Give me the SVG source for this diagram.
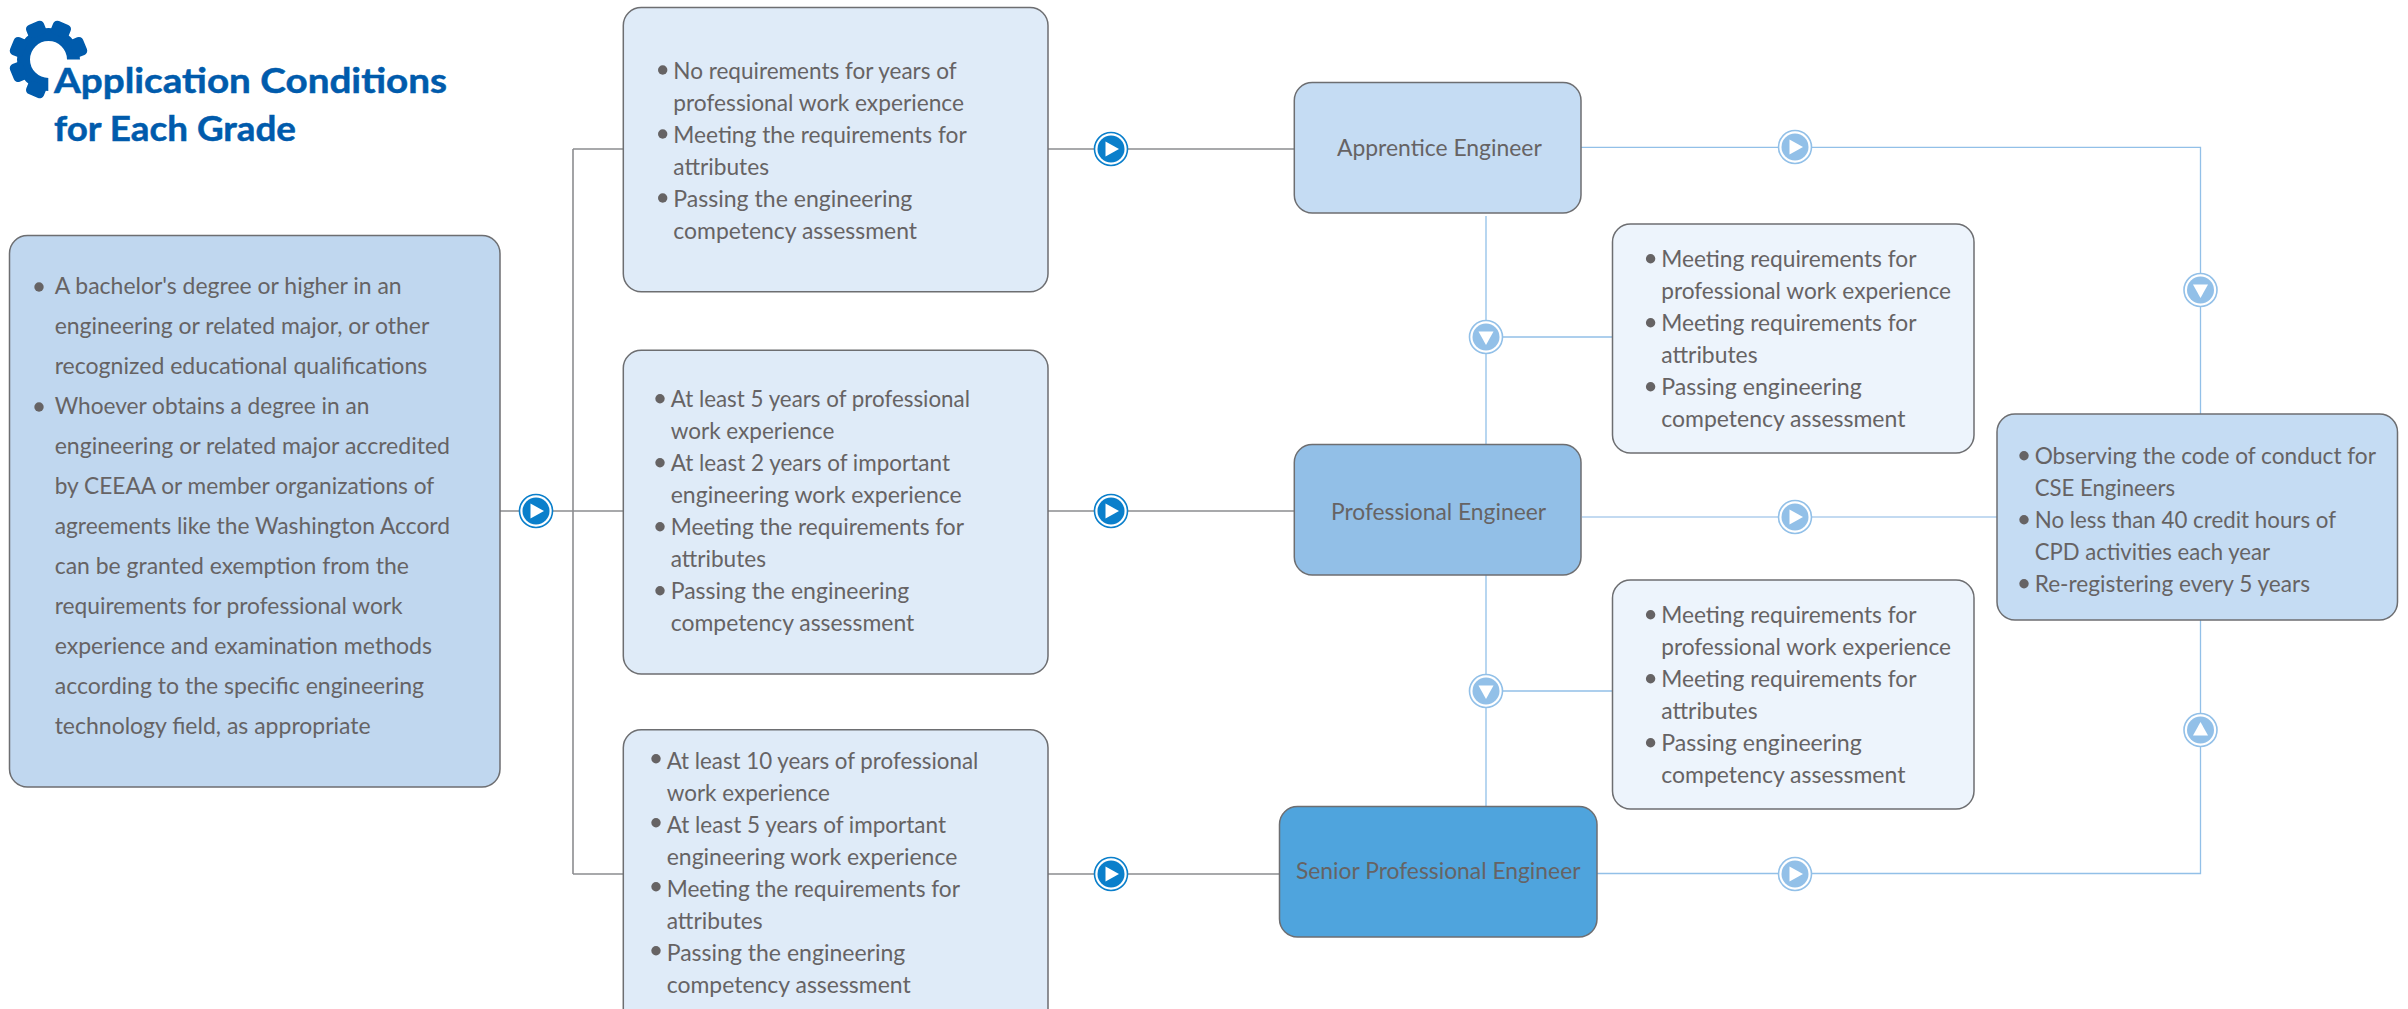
<svg xmlns="http://www.w3.org/2000/svg" xmlns:xlink="http://www.w3.org/1999/xlink" width="2408" height="1009" viewBox="0 0 2408 1009">
<style>
text{font-family:"Lato","Noto Sans","Liberation Sans",sans-serif;font-size:23.5px;fill:#666364}
.title{font-weight:700;font-size:35px;fill:#005bac;stroke:#005bac;stroke-width:.5}
.box{stroke:#6d6e71;stroke-width:1.5}
.bul{fill:#666364}
.dark{fill:none;stroke:#8c8d90;stroke-width:1.6}
.light{fill:none;stroke:#92c0e8;stroke-width:1.3}
.pale{fill:none;stroke:#c3daf1;stroke-width:2}
</style>
<defs>
<clipPath id="gearclip"><path d="M0 0H100V59.5H48.3V100H0Z"/></clipPath>
<rect id="tooth" x="-9.5" y="-39.5" width="19" height="14" rx="4.5" fill="#005bac"/>
<g id="btnDark"><circle r="16.5" fill="#fff" stroke="#0a7fcb" stroke-width="1.6"/><circle r="13.5" fill="#0a7fcb"/><path d="M-5.5-7.5L8 0L-5.5 7.5Z" fill="#fff"/></g>
<g id="btnLight"><circle r="16.5" fill="#fff" stroke="#92c0e8" stroke-width="1.6"/><circle r="13.5" fill="#92c0e8"/><path d="M-5.5-7.5L8 0L-5.5 7.5Z" fill="#fff"/></g>
</defs>
<rect width="2408" height="1009" fill="#fff"/>
<g id="connectors">
<path class="dark" d="M500 511H1294M573 149V874M573 149H1294M573 874H1280"/>
<path class="light" d="M1486 216V445M1486 575V806.5M1486 337H1613M1486 691H1613"/>
<path class="light" d="M1581 147.300H2200.500V414M2200.500 620V873.500H1597"/>
<path class="pale" d="M1582 517H1997"/>
<use xlink:href="#btnDark" href="#btnDark" x="536" y="511"/>
<use xlink:href="#btnDark" href="#btnDark" x="1111" y="149"/>
<use xlink:href="#btnDark" href="#btnDark" x="1111" y="511"/>
<use xlink:href="#btnDark" href="#btnDark" x="1111" y="874"/>
<use xlink:href="#btnLight" href="#btnLight" x="1795" y="147"/>
<use xlink:href="#btnLight" href="#btnLight" x="1795" y="517"/>
<use xlink:href="#btnLight" href="#btnLight" x="1795" y="874"/>
<use xlink:href="#btnLight" href="#btnLight" transform="translate(1486 337) rotate(90)"/>
<use xlink:href="#btnLight" href="#btnLight" transform="translate(1486 691) rotate(90)"/>
<use xlink:href="#btnLight" href="#btnLight" transform="translate(2200.500 290) rotate(90)"/>
<use xlink:href="#btnLight" href="#btnLight" transform="translate(2200.500 730) rotate(-90)"/>
</g>
<g id="title">
<g clip-path="url(#gearclip)">
<circle cx="48.500" cy="59.500" r="25" fill="none" stroke="#005bac" stroke-width="13"/>
<use xlink:href="#tooth" href="#tooth" transform="translate(48.500 59.500) rotate(22.500)"/>
<use xlink:href="#tooth" href="#tooth" transform="translate(48.500 59.500) rotate(67.500)"/>
<use xlink:href="#tooth" href="#tooth" transform="translate(48.500 59.500) rotate(112.500)"/>
<use xlink:href="#tooth" href="#tooth" transform="translate(48.500 59.500) rotate(157.500)"/>
<use xlink:href="#tooth" href="#tooth" transform="translate(48.500 59.500) rotate(202.500)"/>
<use xlink:href="#tooth" href="#tooth" transform="translate(48.500 59.500) rotate(247.500)"/>
<use xlink:href="#tooth" href="#tooth" transform="translate(48.500 59.500) rotate(292.500)"/>
<use xlink:href="#tooth" href="#tooth" transform="translate(48.500 59.500) rotate(337.500)"/>
</g>
<text class="title" x="54" y="92.700" textLength="393" lengthAdjust="spacingAndGlyphs">Application Conditions</text>
<text class="title" x="54" y="140.700" textLength="242" lengthAdjust="spacingAndGlyphs">for Each Grade</text>
</g>
<g id="node-requirements">
<rect class="box" x="9.500" y="235.500" width="490.500" height="551.500" rx="18" fill="#c0d7ef"/>
<circle class="bul" cx="39" cy="287" r="4.700"/>
<circle class="bul" cx="39" cy="407" r="4.700"/>
<text x="54.700" y="293.500" textLength="347" lengthAdjust="spacingAndGlyphs">A bachelor's degree or higher in an</text>
<text x="54.700" y="333.500" textLength="374.600" lengthAdjust="spacingAndGlyphs">engineering or related major, or other</text>
<text x="54.700" y="373.500" textLength="372.600" lengthAdjust="spacingAndGlyphs">recognized educational qualifications</text>
<text x="54.700" y="413.500" textLength="314.600" lengthAdjust="spacingAndGlyphs">Whoever obtains a degree in an</text>
<text x="54.700" y="453.500" textLength="395.300" lengthAdjust="spacingAndGlyphs">engineering or related major accredited</text>
<text x="54.700" y="493.500" textLength="379.600" lengthAdjust="spacingAndGlyphs">by CEEAA or member organizations of</text>
<text x="54.700" y="533.500" textLength="395.300" lengthAdjust="spacingAndGlyphs">agreements like the Washington Accord</text>
<text x="54.700" y="573.500" textLength="354.300" lengthAdjust="spacingAndGlyphs">can be granted exemption from the</text>
<text x="54.700" y="613.500" textLength="348" lengthAdjust="spacingAndGlyphs">requirements for professional work</text>
<text x="54.700" y="653.500" textLength="377.300" lengthAdjust="spacingAndGlyphs">experience and examination methods</text>
<text x="54.700" y="693.500" textLength="369.300" lengthAdjust="spacingAndGlyphs">according to the specific engineering</text>
<text x="54.700" y="733.500" textLength="316" lengthAdjust="spacingAndGlyphs">technology field, as appropriate</text>
</g>
<g id="node-apprentice-conditions">
<rect class="box" x="623.300" y="7.500" width="424.700" height="284.200" rx="18" fill="#dfebf8"/>
<circle class="bul" cx="662.700" cy="70" r="4.700"/>
<circle class="bul" cx="662.700" cy="134" r="4.700"/>
<circle class="bul" cx="662.700" cy="198" r="4.700"/>
<text x="673.300" y="78.500" textLength="283.400" lengthAdjust="spacingAndGlyphs">No requirements for years of</text>
<text x="673.300" y="110.500" textLength="290.700" lengthAdjust="spacingAndGlyphs">professional work experience</text>
<text x="673.300" y="142.500" textLength="293.400" lengthAdjust="spacingAndGlyphs">Meeting the requirements for</text>
<text x="673.300" y="174.500" textLength="95.700" lengthAdjust="spacingAndGlyphs">attributes</text>
<text x="673.300" y="206.500" textLength="239" lengthAdjust="spacingAndGlyphs">Passing the engineering</text>
<text x="673.300" y="238.500" textLength="243.700" lengthAdjust="spacingAndGlyphs">competency assessment</text>
</g>
<g id="node-professional-conditions">
<rect class="box" x="623.300" y="350.300" width="424.700" height="323.700" rx="18" fill="#dfebf8"/>
<circle class="bul" cx="660" cy="398.700" r="4.700"/>
<circle class="bul" cx="660" cy="462.700" r="4.700"/>
<circle class="bul" cx="660" cy="526.700" r="4.700"/>
<circle class="bul" cx="660" cy="590.700" r="4.700"/>
<text x="670.700" y="407" textLength="299.300" lengthAdjust="spacingAndGlyphs">At least 5 years of professional</text>
<text x="670.700" y="439" textLength="163.600" lengthAdjust="spacingAndGlyphs">work experience</text>
<text x="670.700" y="471" textLength="279.300" lengthAdjust="spacingAndGlyphs">At least 2 years of important</text>
<text x="670.700" y="503" textLength="291" lengthAdjust="spacingAndGlyphs">engineering work experience</text>
<text x="670.700" y="535" textLength="293.300" lengthAdjust="spacingAndGlyphs">Meeting the requirements for</text>
<text x="670.700" y="567" textLength="95.300" lengthAdjust="spacingAndGlyphs">attributes</text>
<text x="670.700" y="599" textLength="238.600" lengthAdjust="spacingAndGlyphs">Passing the engineering</text>
<text x="670.700" y="631" textLength="243.600" lengthAdjust="spacingAndGlyphs">competency assessment</text>
</g>
<g id="node-senior-conditions">
<rect class="box" x="623.300" y="729.700" width="424.700" height="300" rx="18" fill="#dfebf8"/>
<circle class="bul" cx="656" cy="758.700" r="4.700"/>
<circle class="bul" cx="656" cy="822.700" r="4.700"/>
<circle class="bul" cx="656" cy="886.700" r="4.700"/>
<circle class="bul" cx="656" cy="950.700" r="4.700"/>
<text x="666.700" y="768.500" textLength="311.600" lengthAdjust="spacingAndGlyphs">At least 10 years of professional</text>
<text x="666.700" y="800.500" textLength="163.300" lengthAdjust="spacingAndGlyphs">work experience</text>
<text x="666.700" y="832.500" textLength="279.300" lengthAdjust="spacingAndGlyphs">At least 5 years of important</text>
<text x="666.700" y="864.500" textLength="290.600" lengthAdjust="spacingAndGlyphs">engineering work experience</text>
<text x="666.700" y="896.500" textLength="293.300" lengthAdjust="spacingAndGlyphs">Meeting the requirements for</text>
<text x="666.700" y="928.500" textLength="96" lengthAdjust="spacingAndGlyphs">attributes</text>
<text x="666.700" y="960.500" textLength="238.600" lengthAdjust="spacingAndGlyphs">Passing the engineering</text>
<text x="666.700" y="992.500" textLength="244" lengthAdjust="spacingAndGlyphs">competency assessment</text>
</g>
<g id="node-apprentice">
<rect class="box" x="1294.300" y="82.500" width="286.700" height="130.500" rx="18" fill="#c5dcf3"/>
<text x="1337" y="156" textLength="204.800" lengthAdjust="spacingAndGlyphs">Apprentice Engineer</text>
</g>
<g id="node-professional">
<rect class="box" x="1294.300" y="444.500" width="286.700" height="130.500" rx="18" fill="#92bfe7"/>
<text x="1331" y="520" textLength="215" lengthAdjust="spacingAndGlyphs">Professional Engineer</text>
</g>
<g id="node-senior">
<rect class="box" x="1279.500" y="806.500" width="317.500" height="130.500" rx="18" fill="#4fa4dd"/>
<text x="1296" y="878.500" textLength="284.500" lengthAdjust="spacingAndGlyphs">Senior Professional Engineer</text>
</g>
<g id="node-upgrade-professional">
<rect class="box" x="1612.500" y="224" width="361.500" height="229" rx="18" fill="#edf4fc"/>
<circle class="bul" cx="1650.600" cy="258.700" r="4.700"/>
<circle class="bul" cx="1650.600" cy="322.700" r="4.700"/>
<circle class="bul" cx="1650.600" cy="386.700" r="4.700"/>
<text x="1661.200" y="266.700" textLength="255.300" lengthAdjust="spacingAndGlyphs">Meeting requirements for</text>
<text x="1661.200" y="298.700" textLength="289.800" lengthAdjust="spacingAndGlyphs">professional work experience</text>
<text x="1661.200" y="330.700" textLength="255.300" lengthAdjust="spacingAndGlyphs">Meeting requirements for</text>
<text x="1661.200" y="362.700" textLength="96.400" lengthAdjust="spacingAndGlyphs">attributes</text>
<text x="1661.200" y="394.700" textLength="200.600" lengthAdjust="spacingAndGlyphs">Passing engineering</text>
<text x="1661.200" y="426.700" textLength="244.200" lengthAdjust="spacingAndGlyphs">competency assessment</text>
</g>
<g id="node-upgrade-senior">
<rect class="box" x="1612.500" y="580" width="361.500" height="229" rx="18" fill="#edf4fc"/>
<circle class="bul" cx="1650.600" cy="614.700" r="4.700"/>
<circle class="bul" cx="1650.600" cy="678.700" r="4.700"/>
<circle class="bul" cx="1650.600" cy="742.700" r="4.700"/>
<text x="1661.200" y="622.700" textLength="255.300" lengthAdjust="spacingAndGlyphs">Meeting requirements for</text>
<text x="1661.200" y="654.700" textLength="289.800" lengthAdjust="spacingAndGlyphs">professional work experience</text>
<text x="1661.200" y="686.700" textLength="255.300" lengthAdjust="spacingAndGlyphs">Meeting requirements for</text>
<text x="1661.200" y="718.700" textLength="96.400" lengthAdjust="spacingAndGlyphs">attributes</text>
<text x="1661.200" y="750.700" textLength="200.600" lengthAdjust="spacingAndGlyphs">Passing engineering</text>
<text x="1661.200" y="782.700" textLength="244.200" lengthAdjust="spacingAndGlyphs">competency assessment</text>
</g>
<g id="node-maintenance">
<rect class="box" x="1997" y="414" width="400.500" height="206" rx="18" fill="#c5dcf3"/>
<circle class="bul" cx="2024" cy="455.700" r="4.700"/>
<circle class="bul" cx="2024" cy="519.700" r="4.700"/>
<circle class="bul" cx="2024" cy="583.700" r="4.700"/>
<text x="2034.700" y="463.500" textLength="341.300" lengthAdjust="spacingAndGlyphs">Observing the code of conduct for</text>
<text x="2034.700" y="495.500" textLength="140.300" lengthAdjust="spacingAndGlyphs">CSE Engineers</text>
<text x="2034.700" y="527.500" textLength="301.300" lengthAdjust="spacingAndGlyphs">No less than 40 credit hours of</text>
<text x="2034.700" y="559.500" textLength="235.300" lengthAdjust="spacingAndGlyphs">CPD activities each year</text>
<text x="2034.700" y="591.500" textLength="275.300" lengthAdjust="spacingAndGlyphs">Re-registering every 5 years</text>
</g>
</svg>
